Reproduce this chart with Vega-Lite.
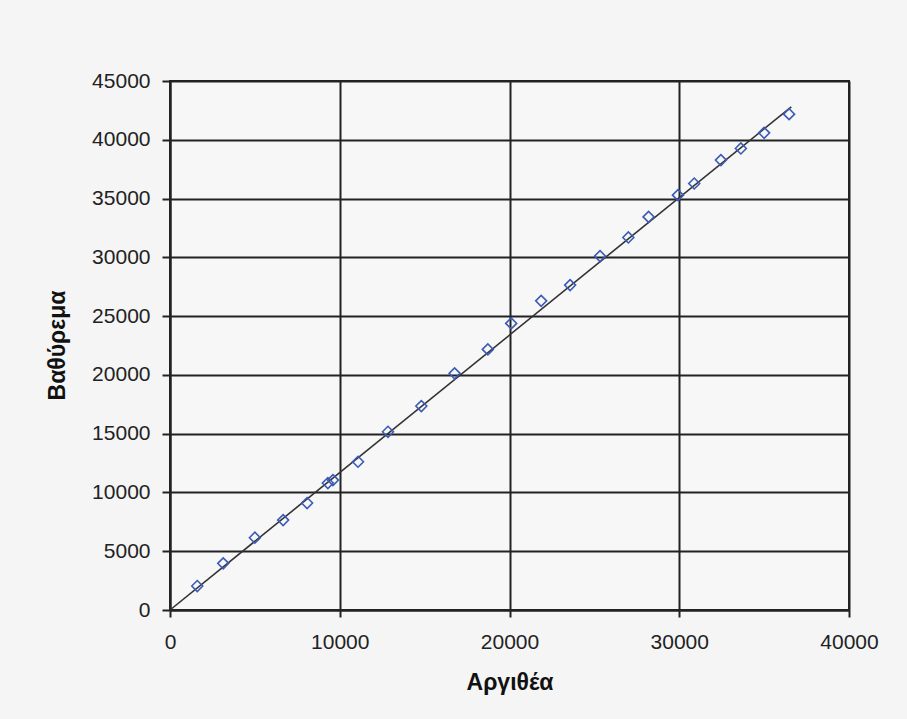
{
  "$schema": "https://vega.github.io/schema/vega-lite/v6.json",
  "width": 679,
  "height": 529,
  "autosize": {"type": "none"},
  "padding": {"left": 170, "top": 81, "right": 58, "bottom": 109},
  "background": "#f5f5f5",
  "config": {
    "view": {"stroke": "#222222", "strokeWidth": 2, "fill": "#f7f7f7"},
    "font": "Liberation Sans"
  },
  "datasets": {
    "points": [
      {"Argithea": 1606, "Vathyrema": 2040},
      {"Argithea": 3135, "Vathyrema": 3970},
      {"Argithea": 5000, "Vathyrema": 6150},
      {"Argithea": 6665, "Vathyrema": 7650},
      {"Argithea": 8076, "Vathyrema": 9100},
      {"Argithea": 9300, "Vathyrema": 10800},
      {"Argithea": 9600, "Vathyrema": 11050},
      {"Argithea": 11076, "Vathyrema": 12610},
      {"Argithea": 12841, "Vathyrema": 15160},
      {"Argithea": 14806, "Vathyrema": 17350},
      {"Argithea": 16765, "Vathyrema": 20130},
      {"Argithea": 18724, "Vathyrema": 22170},
      {"Argithea": 20100, "Vathyrema": 24380},
      {"Argithea": 21865, "Vathyrema": 26300},
      {"Argithea": 23571, "Vathyrema": 27640},
      {"Argithea": 25335, "Vathyrema": 30100},
      {"Argithea": 27000, "Vathyrema": 31690},
      {"Argithea": 28194, "Vathyrema": 33440},
      {"Argithea": 29924, "Vathyrema": 35290},
      {"Argithea": 30882, "Vathyrema": 36280},
      {"Argithea": 32453, "Vathyrema": 38270},
      {"Argithea": 33629, "Vathyrema": 39260},
      {"Argithea": 35000, "Vathyrema": 40590},
      {"Argithea": 36471, "Vathyrema": 42180}
    ],
    "trend": [
      {"Argithea": 0, "Vathyrema": 0},
      {"Argithea": 36600, "Vathyrema": 42800}
    ]
  },
  "encoding": {
    "x": {
      "field": "Argithea",
      "type": "quantitative",
      "scale": {"domain": [0, 40000], "nice": false},
      "axis": {
        "title": "Αργιθέα",
        "values": [0, 10000, 20000, 30000, 40000],
        "format": "d",
        "grid": true,
        "gridColor": "#222222",
        "gridWidth": 2,
        "gridOpacity": 1,
        "domainColor": "#222222",
        "domainWidth": 2,
        "tickColor": "#222222",
        "tickWidth": 2,
        "tickSize": 7,
        "labelFontSize": 21,
        "labelColor": "#222222",
        "labelPadding": 14,
        "labelFlush": false,
        "titleFontSize": 23,
        "titleFontWeight": "bold",
        "titleColor": "#111111",
        "titleY": 72,
        "titleBaseline": "middle"
      }
    },
    "y": {
      "field": "Vathyrema",
      "type": "quantitative",
      "scale": {"domain": [0, 45000], "nice": false},
      "axis": {
        "title": "Βαθύρεμα",
        "values": [0, 5000, 10000, 15000, 20000, 25000, 30000, 35000, 40000, 45000],
        "format": "d",
        "grid": true,
        "gridColor": "#222222",
        "gridWidth": 2,
        "gridOpacity": 1,
        "domainColor": "#222222",
        "domainWidth": 2,
        "tickColor": "#222222",
        "tickWidth": 2,
        "tickSize": 8,
        "labelFontSize": 21,
        "labelColor": "#222222",
        "labelPadding": 12,
        "labelFlush": false,
        "titleFontSize": 23,
        "titleFontWeight": "bold",
        "titleColor": "#111111",
        "titleAngle": -90,
        "titleX": -113,
        "titleY": 264,
        "titleAlign": "center",
        "titleBaseline": "middle"
      }
    }
  },
  "layer": [
    {
      "data": {"name": "trend"},
      "mark": {"type": "line", "color": "#333333", "strokeWidth": 1.6}
    },
    {
      "data": {"name": "points"},
      "mark": {"type": "point", "shape": "diamond", "filled": false, "size": 120, "color": "#3b5bb5", "strokeWidth": 1.6, "opacity": 1}
    }
  ]
}
